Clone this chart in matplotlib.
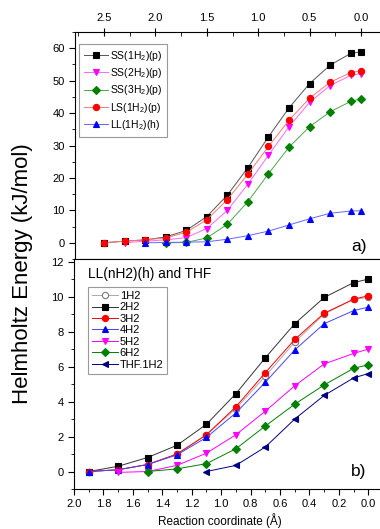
import numpy as np
import matplotlib
matplotlib.use("Agg")
import matplotlib.pyplot as plt
from matplotlib.ticker import MultipleLocator

plt.rcParams['font.family'] = ['Liberation Sans', 'DejaVu Sans']
plt.rcParams['mathtext.default'] = 'regular'

# panel a) data
x_a = [2.5, 2.3, 2.1, 1.9, 1.7, 1.5, 1.3, 1.1, 0.9, 0.7, 0.5, 0.3, 0.1, 0.0]
ss1 = [0.0, 0.5, 0.9, 1.8, 3.8, 8.1, 14.7, 23.2, 32.7, 41.6, 49.1, 54.8, 58.4, 58.9]
ss2 = [0.0, 0.5, 0.9, 1.6, 4.4, 10.0, 18.1, 27.0, 35.8, 43.3, 48.5, 51.6, 52.2]
ss3 = [0.0, 0.1, 1.5, 5.7, 12.7, 21.3, 29.5, 35.8, 40.4, 43.6, 44.4]
ls1 = [0.0, 0.5, 0.9, 1.5, 3.2, 7.1, 13.3, 21.2, 29.7, 37.8, 44.6, 49.5, 52.5, 53.1]
ll1 = [0.0, 0.1, 0.2, 0.3, 1.1, 2.2, 3.6, 5.5, 7.4, 9.1, 9.8, 9.9]

# panel b) data
x_b = [1.9, 1.7, 1.5, 1.3, 1.1, 0.9, 0.7, 0.5, 0.3, 0.1, 0.0]
h1 = [0.0, 0.1, 0.4, 1.0, 2.1, 3.6, 5.45, 7.4, 9.0, 9.85, 9.95]
h2 = [0.0, 0.3, 0.8, 1.5, 2.7, 4.45, 6.5, 8.45, 9.95, 10.8, 11.0]
h3 = [0.0, 0.1, 0.4, 1.0, 2.1, 3.7, 5.65, 7.55, 9.05, 9.85, 10.05]
h4 = [0.0, 0.1, 0.4, 0.95, 1.95, 3.35, 5.1, 6.95, 8.45, 9.2, 9.4]
h5 = [-0.05, 0.0, 0.35, 1.05, 2.1, 3.45, 4.9, 6.15, 6.75, 7.0]
h6 = [0.0, 0.15, 0.45, 1.3, 2.6, 3.85, 4.95, 5.9, 6.1]
thf = [0.0, 0.35, 1.4, 3.0, 4.35, 5.35, 5.6]

W, H = 380, 529
fig = plt.figure(figsize=(W / 100, H / 100), dpi=100)

ax1 = fig.add_axes([75 / W, 1 - 259 / H, 1 - 75 / W, (259 - 32) / H])
ax2 = fig.add_axes([74 / W, 1 - 489 / H, 1 - 74 / W, (489 - 259) / H])

lw = 0.7
ms = 4.5


def series(ax, x, y, color, marker, label, mfc=None, lc=None, ms=ms):
    n = len(y)
    ax.plot(x[-n:], y, color=lc or color, lw=lw, marker=marker, ms=ms,
            mfc=mfc or color, mec=color, mew=0.8, label=label)


series(ax1, x_a, ss1, 'black', 's', 'SS(1H$_2$)(p)', lc='#555555')
series(ax1, x_a, ss2, '#ff00ff', 'v', 'SS(2H$_2$)(p)', lc='#ff66ff')
series(ax1, x_a, ss3, '#008000', 'D', 'SS(3H$_2$)(p)', lc='#4da64d', ms=4)
series(ax1, x_a, ls1, '#ff0000', 'o', 'LS(1H$_2$)(p)', lc='#ff7777')
series(ax1, x_a, ll1, '#0000ff', '^', 'LL(1H$_2$)(h)', lc='#6666ff')

ax1.set_xlim(2.5 + 29 / 102.8, -19 / 102.8)
ax1.set_ylim(-5, 65)
ax1.xaxis.tick_top()
ax1.xaxis.set_major_locator(MultipleLocator(0.5))
ax1.xaxis.set_minor_locator(MultipleLocator(0.25))
ax1.yaxis.set_minor_locator(MultipleLocator(5))
ax1.set_yticks([0, 10, 20, 30, 40, 50, 60])
ax1.tick_params(axis='x', which='major', direction='inout', length=6, labelsize=8)
ax1.tick_params(axis='x', which='minor', direction='in', length=3)
ax1.tick_params(axis='y', which='major', direction='out', length=4, labelsize=8)
ax1.tick_params(axis='y', which='minor', direction='out', length=2)
ax1.spines['right'].set_visible(False)
ax1.text(0.958, 0.053, 'a)', transform=ax1.transAxes, fontsize=12.5, ha='right', va='center')
leg1 = ax1.legend(loc='upper left', bbox_to_anchor=(0.013, 0.947), fontsize=7.5,
                  handlelength=2.3, handletextpad=0.2, labelspacing=0.32,
                  borderpad=0.45, borderaxespad=0, fancybox=False,
                  edgecolor='#999999', framealpha=1)
leg1.get_frame().set_linewidth(0.8)

series(ax2, x_b, h1, '#777777', 'o', '1H2', mfc='white', lc='#aaaaaa')
series(ax2, x_b, h2, 'black', 's', '2H2', lc='#333333')
series(ax2, x_b, h3, '#ff0000', 'o', '3H2')
series(ax2, x_b, h4, '#0000ff', '^', '4H2', lc='#4444ff')
series(ax2, x_b, h5, '#ff00ff', 'v', '5H2')
series(ax2, x_b, h6, '#008000', 'D', '6H2', ms=4)
series(ax2, x_b, thf, '#000080', '<', 'THF.1H2')

ax2.set_xlim(2.0, -11.7 / 147.5)
ax2.set_ylim(-1, 12.15)
ax2.xaxis.set_minor_locator(MultipleLocator(0.1))
ax2.yaxis.set_minor_locator(MultipleLocator(1))
xt = np.round(np.arange(0, 2.01, 0.2), 1)
ax2.set_xticks(xt)
ax2.set_xticklabels([f'{v:.1f}' for v in xt])
ax2.set_yticks([0, 2, 4, 6, 8, 10, 12])
ax2.tick_params(axis='both', which='major', direction='out', length=4, labelsize=8)
ax2.tick_params(axis='both', which='minor', direction='out', length=2)
ax2.spines['right'].set_visible(False)
ax2.set_xlabel('Reaction coordinate (Å)', fontsize=8.5)
ax2.xaxis.set_label_coords(0.477, -0.105)
ax2.text(0.955, 0.074, 'b)', transform=ax2.transAxes, fontsize=12.5, ha='right', va='center')
ax2.text(0.045, 0.935, 'LL(nH2)(h) and THF', transform=ax2.transAxes, fontsize=9.8,
         ha='left', va='center')
leg2 = ax2.legend(loc='upper left', bbox_to_anchor=(0.046, 0.878), fontsize=8,
                  handlelength=2.3, handletextpad=0.2, labelspacing=0.13,
                  borderpad=0.35, borderaxespad=0, fancybox=False,
                  edgecolor='#999999', framealpha=1)
leg2.get_frame().set_linewidth(0.8)

fig.text(0.059, 1 - 274 / H, 'Helmholtz Energy (kJ/mol)', rotation=90, fontsize=16,
         ha='center', va='center')

fig.savefig('out.png', dpi=100)
